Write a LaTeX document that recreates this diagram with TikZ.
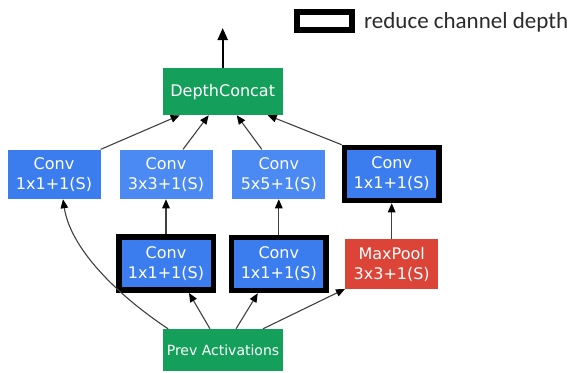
\documentclass[tikz,border=0pt]{standalone}
\usepackage{fontspec}
\setmainfont{DejaVu Sans}
\newfontfamily\legendfont{Carlito}
\usetikzlibrary{arrows.meta}
\definecolor{gblue}{HTML}{3B7DEF}
\definecolor{gblueb}{HTML}{4A8AF2}
\definecolor{ggreen}{HTML}{14A05A}
\definecolor{gred}{HTML}{DB4437}
\definecolor{edgegray}{HTML}{404040}
\definecolor{legendgray}{HTML}{2B2B2B}
\begin{document}
\begin{tikzpicture}[x=1pt,y=-1pt,
  layer/.style={fill=#1,text=white,align=center,font=\fontsize{16}{20}\selectfont,minimum width=93pt,minimum height=49.5pt,inner sep=0pt},
  reduce/.style={draw=black,line width=5.5pt,minimum width=94.5pt,minimum height=53pt},
  flow/.style={draw=edgegray,line width=1.1pt,-{Triangle[length=9pt,width=7.5pt,color=black]}}]
\useasboundingbox (0,0) rectangle (570,372);
\node[draw=black,line width=6pt,minimum width=55pt,minimum height=18pt,inner sep=0pt] (key) at (324.7,20.7) {};
\node[anchor=base west,text=legendgray,font=\legendfont\fontsize{23}{23}\selectfont,inner sep=0pt] (keytext) at (364,28.7) {reduce channel depth};
\node[layer=ggreen,minimum width=120pt,minimum height=46.7pt] (concat) at (222.7,91.7) {DepthConcat};
\coordinate (out) at (222.7,28);
\node[layer=gblue] (conva) at (54,174.3) {Conv\\1x1+1(S)};
\node[layer=gblueb] (convb) at (166,174.3) {Conv\\3x3+1(S)};
\node[layer=gblueb] (convc) at (278.8,174.3) {Conv\\5x5+1(S)};
\node[layer=gblue,reduce] (convd) at (391.7,174) {Conv\\1x1+1(S)};
\node[layer=gblue,reduce] (rede) at (166,263.7) {Conv\\1x1+1(S)};
\node[layer=gblue,reduce] (redf) at (278.8,264) {Conv\\1x1+1(S)};
\node[layer=gred] (pool) at (391.7,264) {MaxPool\\3x3+1(S)};
\node[layer=ggreen,minimum width=119.4pt,minimum height=42pt,font=\fontsize{14}{17}\selectfont] (prev) at (223,350) {Prev Activations};
\draw[line width=2.2pt,-{Triangle[length=12pt,width=10pt]}] (concat) -- (out);
\draw[flow] (conva.north east) -- ([xshift=-43pt]concat.south);
\draw[flow] ([xshift=17pt]convb.north) -- ([xshift=-14pt]concat.south);
\draw[flow] ([xshift=-17pt]convc.north) -- ([xshift=14pt]concat.south);
\draw[flow] (convd.north west) -- ([xshift=45pt]concat.south);
\draw[flow] (rede) -- (convb);
\draw[flow] (redf) -- (convc);
\draw[flow] (pool) -- (convd);
\draw[flow] ([xshift=-13pt]prev.north) -- ([xshift=23pt]rede.south);
\draw[flow] ([xshift=13pt]prev.north) -- ([xshift=-21pt]redf.south);
\draw[flow] ([xshift=40pt]prev.north) -- (pool.south west);
\draw[flow] ([xshift=5pt]prev.north west) .. controls (110,290) and (70,245) .. ([xshift=9pt]conva.south);
\end{tikzpicture}
\end{document}
